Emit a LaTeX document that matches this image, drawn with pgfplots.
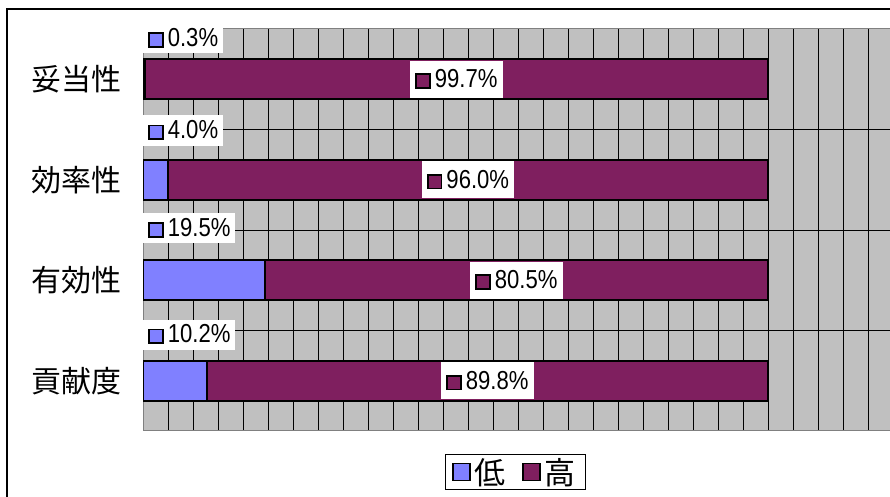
\documentclass[border=0pt]{standalone}
\usepackage{graphicx}
\usepackage{pgfplots}
\pgfplotsset{compat=1.18}
\usepackage{fontspec}
\setmainfont{Liberation Sans}
\newfontfamily\cjk{Noto Sans CJK JP}
\definecolor{lowc}{RGB}{128,128,255}
\definecolor{highc}{RGB}{127,31,95}
\definecolor{bgc}{RGB}{192,192,192}
\setlength{\fboxsep}{0pt}
\setlength{\fboxrule}{1.8pt}
\newcommand{\sq}[1]{\raisebox{0.5pt}{\fcolorbox{black}{#1}{\rule{0pt}{12pt}\rule{12pt}{0pt}}}}
\newcommand{\lab}[2]{\sq{#1}\hspace{4pt}\scalebox{0.85}[1]{\fontsize{26}{26}\selectfont #2}\hspace{3pt}}
\begin{document}
\begin{tikzpicture}[x=1pt,y=1pt]
\useasboundingbox (0,0) rectangle (890,497);
\draw[line width=1.5pt] (7,-5) -- (7,488) -- (900,488);
\begin{axis}[
  at={(143pt,66pt)}, anchor=south west, scale only axis,
  width=750pt, height=402pt,
  xmin=0, xmax=120, ymin=-0.5, ymax=3.5,
  xbar stacked, bar width=0.4,
  axis background/.style={fill=bgc},
  axis line style={draw=gray, line width=1pt},
  xtick={0,4,...,120}, xticklabels={}, xmajorgrids,
  ytick={0,1,2,3}, yticklabels={貢献度,有効性,効率性,妥当性},
  minor ytick={0.5,1.5,2.5}, yminorgrids,
  major grid style={black, line width=0.8pt},
  minor grid style={black, line width=0.8pt},
  major tick length=0pt, minor tick length=0pt,
  yticklabel style={font=\cjk\fontsize{30}{30}\selectfont, inner sep=0pt, xshift=-21pt},
  legend style={at={(0.497,-0.102)}, anchor=center, draw=black, line width=1pt,
    legend columns=2, font=\cjk\fontsize{31}{31}\selectfont,
    inner xsep=6pt, inner ysep=2pt,
    nodes={inner xsep=4pt, inner ysep=2pt},
    /tikz/every even column/.append style={column sep=12pt}},
  legend image code/.code={\draw[#1, draw=black, line width=1.8pt] (0pt,-8.5pt) rectangle (17pt,8.5pt);},
]
\addplot[fill=lowc, draw=black, line width=1.8pt] coordinates {(10.2,0) (19.5,1) (4.0,2) (0.3,3)};
\addplot[fill=highc, draw=black, line width=1.8pt] coordinates {(89.8,0) (80.5,1) (96.0,2) (99.7,3)};
\legend{低,高}
\end{axis}
\begin{axis}[
  at={(143pt,66pt)}, anchor=south west, scale only axis,
  width=750pt, height=402pt,
  xmin=0, xmax=120, ymin=-0.5, ymax=3.5,
  hide axis, clip=false,
]
\addplot[draw=none, mark=none, point meta=explicit symbolic,
  nodes near coords={\lab{lowc}{\pgfplotspointmeta}},
  every node near coord/.append style={anchor=west, fill=white, inner xsep=5pt, inner ysep=0pt, minimum height=30pt}]
  coordinates {(0,3.41) [0.3\%] (0,2.49) [4.0\%] (0,1.52) [19.5\%] (0,0.46) [10.2\%]};
\addplot[draw=none, mark=none, point meta=explicit symbolic,
  nodes near coords={\lab{highc}{\pgfplotspointmeta}},
  every node near coord/.append style={anchor=center, fill=white, inner xsep=5pt, inner ysep=0pt, minimum height=37pt}]
  coordinates {(50.15,3) [99.7\%] (52.0,2) [96.0\%] (59.75,1) [80.5\%] (55.1,0) [89.8\%]};
\end{axis}
\end{tikzpicture}
\end{document}
